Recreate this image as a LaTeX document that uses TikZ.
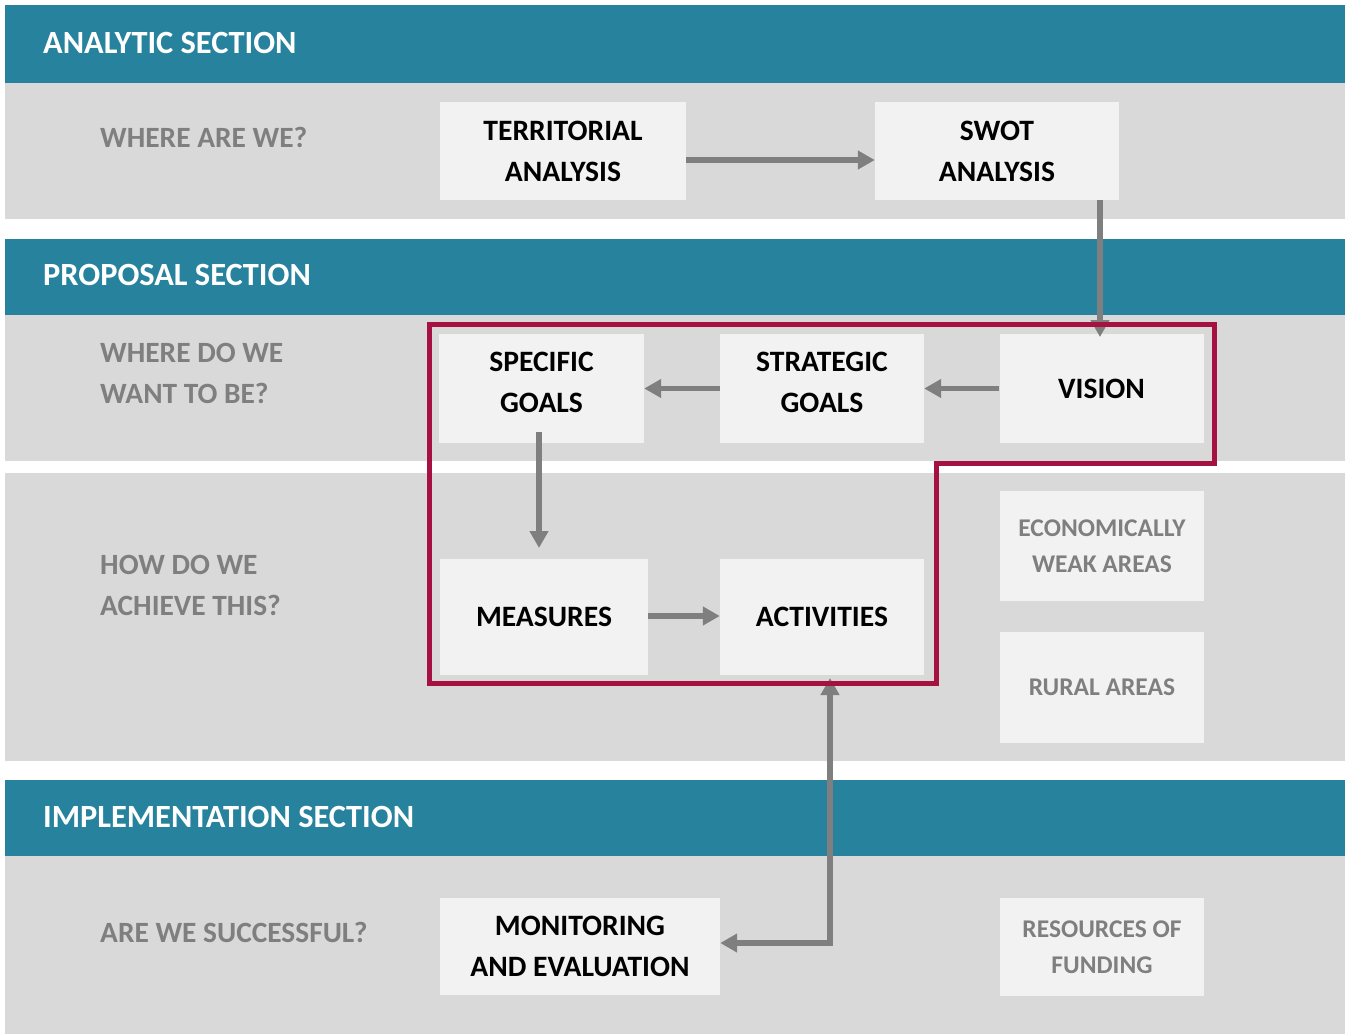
\documentclass[tikz,border=0pt]{standalone}
\usepackage{fontspec}
\setmainfont{Carlito}
\usetikzlibrary{arrows.meta}
\definecolor{hdrblue}{HTML}{27829E}
\definecolor{bandgray}{HTML}{D9D9D9}
\definecolor{boxfill}{HTML}{F2F2F2}
\definecolor{arrgray}{HTML}{7F7F7F}
\definecolor{framered}{HTML}{A51140}
\begin{document}
\begin{tikzpicture}[x=1pt,y=-1pt,
  hdr/.style={anchor=west,inner sep=0,text=white,font=\bfseries\fontsize{32.4}{34}\selectfont},
  quest/.style={anchor=west,inner sep=0,text=arrgray,align=left,font=\bfseries\fontsize{29.4}{41}\selectfont},
  boxtext/.style={inner sep=0,align=center,font=\bfseries\fontsize{29.6}{41}\selectfont},
  box/.style={boxtext,fill=boxfill},
  softbox/.style={box,text=arrgray,font=\bfseries\fontsize{25.5}{36}\selectfont},
  arr/.style={draw=arrgray,line width=5.2pt,-{Triangle[length=17pt,width=18pt]}},
  dblarr/.style={arr,{Triangle[length=17pt,width=18pt]}-{Triangle[length=17pt,width=18pt]}},
  frame/.style={draw=framered,line width=5pt}]
\useasboundingbox (0,0) rectangle (1345,1034);
% bands
\fill[hdrblue] (5,5) rectangle (1345,83);
\fill[bandgray] (5,83) rectangle (1345,219);
\fill[hdrblue] (5,239) rectangle (1345,315);
\fill[bandgray] (5,315) rectangle (1345,461);
\fill[bandgray] (5,473) rectangle (1345,761);
\fill[hdrblue] (5,780) rectangle (1345,856);
\fill[bandgray] (5,856) rectangle (1345,1034);
% headers
\node[hdr] (h1) at (43,43) {ANALYTIC SECTION};
\node[hdr] (h2) at (43,275) {PROPOSAL SECTION};
\node[hdr] (h3) at (43,817) {IMPLEMENTATION SECTION};
% questions
\node[quest] (q1) at (100,137) {WHERE ARE WE?};
\node[quest] (q2) at (100,373.5) {WHERE DO WE\\WANT TO BE?};
\node[quest] (q3) at (100,585.5) {HOW DO WE\\ACHIEVE THIS?};
\node[quest] (q4) at (100,932) {ARE WE SUCCESSFUL?};
% boxes
\node[box,minimum width=246,minimum height=98] (terr) at (563,151) {TERRITORIAL\\ANALYSIS};
\node[box,minimum width=244,minimum height=98] (swot) at (997,151) {SWOT\\ANALYSIS};
\node[box,minimum width=205,minimum height=109,
  label={[boxtext,yshift=6.5pt]center:SPECIFIC\\GOALS}] (spec) at (541.5,388.5) {};
\node[box,minimum width=204,minimum height=109,
  label={[boxtext,yshift=6.5pt]center:STRATEGIC\\GOALS}] (strat) at (822,388.5) {};
\node[box,minimum width=204,minimum height=109] (vis) at (1101.5,388.5) {VISION};
\node[box,minimum width=208,minimum height=116] (meas) at (544,617) {MEASURES};
\node[box,minimum width=204,minimum height=116] (act) at (822,617) {ACTIVITIES};
\node[box,minimum width=280,minimum height=97] (mon) at (580,946.5) {MONITORING\\AND EVALUATION};
\node[softbox,minimum width=204,minimum height=110] (econ) at (1102,546) {ECONOMICALLY\\WEAK AREAS};
\node[softbox,minimum width=204,minimum height=111] (rural) at (1102,687.5) {RURAL AREAS};
\node[softbox,minimum width=204,minimum height=98] (res) at (1102,947) {RESOURCES OF\\FUNDING};
% arrows
\draw[arr] (terr.east |- 0,160) -- (swot.west |- 0,160);
\draw[arr] (1100,200) -- (1100,337);
\draw[arr] (vis.west) -- (strat.east);
\draw[arr] (strat.west) -- (spec.east);
\draw[arr] (539,432) -- (539,548);
\draw[arr] (meas.east |- 0,616) -- (act.west |- 0,616);
\draw[dblarr] (mon.east |- 0,943) -| (830,678);
% frame
\draw[frame] (429.5,324.5) -- (1214,324.5) -- (1214,463) -- (936,463) -- (936,683.5) -- (429.5,683.5) -- cycle;
\end{tikzpicture}
\end{document}
